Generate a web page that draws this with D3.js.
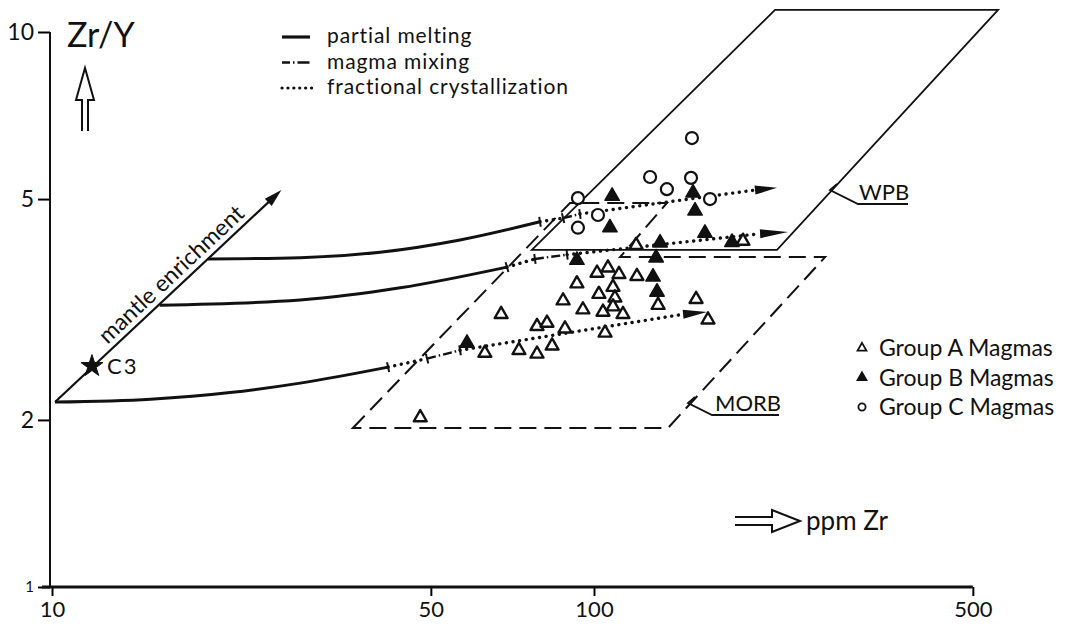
<!DOCTYPE html>
<html>
<head>
<meta charset="utf-8">
<script src="https://cdn.jsdelivr.net/npm/d3@7"></script>
<style>
    body { margin: 0; background: #fff; }
    text { font-family: Lato, "DejaVu Sans", sans-serif; fill: #111; }
</style>
</head>
<body>
<div id="vis"></div>
<script>
// Zr (ppm), Zr/Y pairs
const groupA = [
    [119.6, 4.13], [101.3, 3.68], [106.1, 3.76], [111.2, 3.66], [120.0, 3.63], [93.0, 3.52],
    [108.4, 3.47], [102.1, 3.37], [109.3, 3.32], [87.7, 3.28], [108.4, 3.20], [95.4, 3.16],
    [103.9, 3.13], [113.1, 3.10], [131.3, 3.22], [154.3, 3.30], [67.4, 3.10], [78.5, 2.95],
    [81.9, 2.99], [88.4, 2.92], [104.8, 2.87], [72.7, 2.67], [78.5, 2.63], [83.7, 2.72],
    [62.9, 2.64], [162.3, 3.03], [47.8, 2.02], [188.3, 4.20]
];
const groupB = [
    [108.0, 5.06], [152.3, 5.13], [153.6, 4.76], [107.0, 4.44], [160.2, 4.34], [132.4, 4.17],
    [130.2, 3.92], [93.0, 3.88], [128.5, 3.62], [130.7, 3.40], [58.3, 2.75], [179.7, 4.18]
];
const groupC = [
    [93.4, 5.02], [151.6, 6.44], [126.9, 5.48], [136.3, 5.21], [151.0, 5.46], [163.7, 5.00],
    [101.7, 4.68], [93.4, 4.44]
];

const mantleTrend = [[10.13, 2.154], [26.5, 5.19]];
const c3 = [11.85, 2.50];

// partial melting curves leaving the enrichment trend
const meltLow = [[10.13, 2.154], [15.2, 2.18], [21.3, 2.24], [28.7, 2.33], [41.7, 2.49]];
const meltMid = [[15.8, 3.22], [28.7, 3.29], [43.9, 3.46], [69.1, 3.77]];
const meltHigh = [[19.4, 3.90], [28.7, 3.92], [40.3, 4.01], [56.6, 4.22], [79.5, 4.55]];

// crystallization legs, mixing legs, then crystallization to the arrow tip
const fracLow = [[41.7, 2.49], [49.2, 2.58]];
const mixLow = [[49.2, 2.58], [56.6, 2.67]];
const trendLow = [[56.6, 2.67], [146.0, 3.10], [161.6, 3.13]];
const fracMid = [[69.1, 3.77], [77.8, 3.90]];
const mixMid = [[77.8, 3.90], [89.2, 3.97]];
const trendMid = [[89.2, 3.97], [202.5, 4.33], [228.0, 4.36]];
const fracHigh = [[79.5, 4.55], [87.7, 4.62]];
const mixHigh = [[87.7, 4.62], [94.2, 4.70]];
const trendHigh = [[94.2, 4.70], [198.2, 5.19], [217.6, 5.24]];

// tectonic fields
const wpbField = [[76.8, 4.05], [215.8, 10.96], [556.6, 10.96], [217.6, 4.05]];
const morbField = [[35.9, 1.934], [90.3, 4.92], [136.3, 4.92], [111.7, 3.93], [266.9, 3.93], [136.9, 1.934]];

const xTicks = [10, 50, 100, 500];
const yTicks = [1, 2, 5, 10];
const processNames = ['partial melting', 'magma mixing', 'fractional crystallization'];
const groupNames = ['Group A Magmas', 'Group B Magmas', 'Group C Magmas'];

const width = 1067;
const height = 632;
const ink = '#111';

const x = d3.scaleLog().domain([10, 1000]).range([52, 1136]);
const y = d3.scaleLog().domain([1, 10]).range([587, 32]);

const svg = d3.select('#vis').append('svg').attr('width', width).attr('height', height);

const line = d3.line().x(d => x(d[0])).y(d => y(d[1]));
const curve = d3.line().x(d => x(d[0])).y(d => y(d[1])).curve(d3.curveMonotoneX);

// fields
svg.append('path').attr('d', line(wpbField) + 'Z')
    .attr('fill', 'none').attr('stroke', ink).attr('stroke-width', 1.8);
svg.append('path').attr('d', line(morbField) + 'Z')
    .attr('fill', 'none').attr('stroke', ink).attr('stroke-width', 2)
    .attr('stroke-dasharray', '17,8');

// axes
const xAxis = d3.axisBottom(x).tickValues(xTicks).tickFormat(d3.format('d')).tickSize(9).tickPadding(5);
const yAxis = d3.axisLeft(y).tickValues(yTicks).tickFormat(d3.format('d')).tickSize(12).tickPadding(4);

svg.append('g').attr('transform', `translate(0,${y(1)})`).call(xAxis)
    .call(g => g.select('.domain').remove())
    .call(g => g.selectAll('.tick line').attr('stroke-width', 2))
    .call(g => g.selectAll('text').attr('font-size', 22).attr('font-family', 'Lato'));
svg.append('g').attr('transform', `translate(${x(10) - 2},0)`).call(yAxis)
    .call(g => g.select('.domain').remove())
    .call(g => g.selectAll('.tick line').attr('stroke-width', 2))
    .call(g => g.selectAll('text').attr('font-size', d => d === 1 ? 15 : 23).attr('font-family', 'Lato'));

svg.append('line')
    .attr('x1', x(10) - 10).attr('x2', x(500))
    .attr('y1', y(1)).attr('y2', y(1))
    .attr('stroke', ink).attr('stroke-width', 3.2);
svg.append('line')
    .attr('x1', x(10) - 2).attr('x2', x(10) - 2)
    .attr('y1', y(10)).attr('y2', y(1))
    .attr('stroke', ink).attr('stroke-width', 2);

// axis titles with hollow arrows
svg.append('text').attr('x', 67).attr('y', 47).attr('font-size', 34).text('Zr/Y');
svg.append('path').attr('d', 'M82,131 L82,100 L76,100 L85,68 L94,100 L88,100 L88,131')
    .attr('fill', 'none').attr('stroke', ink).attr('stroke-width', 2);
svg.append('path').attr('d', 'M735,517 L772,517 L772,510 L800,521 L772,532 L772,525 L735,525')
    .attr('fill', 'none').attr('stroke', ink).attr('stroke-width', 2);
svg.append('text').attr('x', 806).attr('y', 530).attr('font-size', 26).text('ppm Zr');

// mantle enrichment trend
const m0 = [x(mantleTrend[0][0]), y(mantleTrend[0][1])];
const m1 = [x(mantleTrend[1][0]), y(mantleTrend[1][1])];
const mLen = Math.hypot(m1[0] - m0[0], m1[1] - m0[1]);
const mDir = [(m1[0] - m0[0]) / mLen, (m1[1] - m0[1]) / mLen];
svg.append('line')
    .attr('x1', m0[0]).attr('y1', m0[1])
    .attr('x2', m1[0] - mDir[0] * 10).attr('y2', m1[1] - mDir[1] * 10)
    .attr('stroke', ink).attr('stroke-width', 2.2);
function arrowHead(base, tip, half) {
    const dx = tip[0] - base[0], dy = tip[1] - base[1];
    const l = Math.hypot(dx, dy);
    const nx = -dy / l * half, ny = dx / l * half;
    return `M${base[0] + nx},${base[1] + ny} L${tip[0]},${tip[1]} L${base[0] - nx},${base[1] - ny}Z`;
}
svg.append('path')
    .attr('d', arrowHead([m1[0] - mDir[0] * 18, m1[1] - mDir[1] * 18], m1, 5))
    .attr('fill', ink);

const angle = Math.atan2(mDir[1], mDir[0]) * 180 / Math.PI;
const tMid = 0.555;
const labelPos = [m0[0] + mDir[0] * mLen * tMid + mDir[1] * 6, m0[1] + mDir[1] * mLen * tMid - mDir[0] * 6];
svg.append('text')
    .attr('transform', `translate(${labelPos[0]},${labelPos[1]}) rotate(${angle})`)
    .attr('text-anchor', 'middle').attr('font-size', 23)
    .text('mantle enrichment');

svg.append('path')
    .attr('transform', `translate(${x(c3[0])},${y(c3[1])})`)
    .attr('d', d3.symbol().type(d3.symbolStar).size(150)())
    .attr('fill', ink).attr('stroke', ink).attr('stroke-width', 1);
svg.append('text').attr('x', x(c3[0]) + 15).attr('y', y(c3[1]) + 8)
    .attr('font-size', 22).attr('letter-spacing', 2).text('C3');

// petrogenetic paths
const dotted = {stroke: ink, 'stroke-width': 3.4, 'stroke-linecap': 'round', 'stroke-dasharray': '0.1,6.6', fill: 'none'};
const mixed = {stroke: ink, 'stroke-width': 2.4, 'stroke-dasharray': '9,3,1.5,3', fill: 'none'};
function styled(sel, style) {
    Object.entries(style).forEach(([k, v]) => sel.attr(k, v));
    return sel;
}
function tickAt(pt, next) {
    const p = [x(pt[0]), y(pt[1])], q = [x(next[0]), y(next[1])];
    const l = Math.hypot(q[0] - p[0], q[1] - p[1]);
    const nx = -(q[1] - p[1]) / l * 5, ny = (q[0] - p[0]) / l * 5;
    svg.append('line').attr('x1', p[0] + nx).attr('y1', p[1] + ny)
        .attr('x2', p[0] - nx).attr('y2', p[1] - ny)
        .attr('stroke', ink).attr('stroke-width', 2);
}

[[meltLow, fracLow, mixLow, trendLow], [meltMid, fracMid, mixMid, trendMid], [meltHigh, fracHigh, mixHigh, trendHigh]]
    .forEach(([melt, frac, mix, trend]) => {
        svg.append('path').attr('d', curve(melt))
            .attr('fill', 'none').attr('stroke', ink).attr('stroke-width', 3);
        styled(svg.append('path').attr('d', line(frac)), dotted);
        styled(svg.append('path').attr('d', line(mix)), mixed);
        styled(svg.append('path').attr('d', line(trend.slice(0, -1))), dotted);
        tickAt(frac[0], frac[1]);
        tickAt(mix[0], mix[1]);
        tickAt(mix[1], trend[1]);
        const base = trend[trend.length - 2], tip = trend[trend.length - 1];
        svg.append('path')
            .attr('d', arrowHead([x(base[0]), y(base[1])], [x(tip[0]), y(tip[1])], 4.5))
            .attr('fill', ink);
    });

// field labels with leaders
svg.append('path').attr('d', 'M837,184 L830,190 L858,204 L908,204')
    .attr('fill', 'none').attr('stroke', ink).attr('stroke-width', 1.8);
svg.append('text').attr('x', 859).attr('y', 200).attr('font-size', 22).text('WPB');
svg.append('path').attr('d', 'M695,397 L688,403 L712,415 L779,415')
    .attr('fill', 'none').attr('stroke', ink).attr('stroke-width', 1.8);
svg.append('text').attr('x', 715).attr('y', 411).attr('font-size', 22).text('MORB');

// data points
const tri = d3.symbol().type(d3.symbolTriangle);
svg.append('g').selectAll('path').data(groupA).enter().append('path')
    .attr('transform', d => `translate(${x(d[0])},${y(d[1])})`)
    .attr('d', tri.size(72)())
    .attr('fill', '#fff').attr('stroke', ink).attr('stroke-width', 2.4).attr('stroke-linejoin', 'round');
svg.append('g').selectAll('path').data(groupB).enter().append('path')
    .attr('transform', d => `translate(${x(d[0])},${y(d[1])})`)
    .attr('d', tri.size(90)())
    .attr('fill', ink).attr('stroke', ink).attr('stroke-width', 1.5).attr('stroke-linejoin', 'round');
svg.append('g').selectAll('circle').data(groupC).enter().append('circle')
    .attr('cx', d => x(d[0])).attr('cy', d => y(d[1])).attr('r', 6)
    .attr('fill', '#fff').attr('stroke', ink).attr('stroke-width', 2.2);

// process legend
const procLegend = svg.append('g').selectAll('g').data(processNames).enter().append('g')
    .attr('transform', (d, i) => `translate(282,${37 + i * 25.5})`);
procLegend.append('text').attr('x', 45).attr('y', 0).attr('dy', '0.3em')
    .attr('font-size', 21).attr('letter-spacing', 0.9).text(d => d);
procLegend.each(function (d, i) {
    const g = d3.select(this);
    const seg = g.append('line').attr('x1', 0).attr('x2', i === 2 ? 32 : 28).attr('y1', 0).attr('y2', 0);
    if (i === 0) styled(seg, {stroke: ink, 'stroke-width': 3.2});
    if (i === 1) styled(seg, {stroke: ink, 'stroke-width': 2.6, 'stroke-dasharray': '8,3,1.5,3,12'});
    if (i === 2) styled(seg, {stroke: ink, 'stroke-width': 3.2, 'stroke-linecap': 'round', 'stroke-dasharray': '0.1,5.8'});
});

// group legend
const grpLegend = svg.append('g').selectAll('g').data(groupNames).enter().append('g')
    .attr('transform', (d, i) => `translate(862,${348 + i * 29.5})`);
grpLegend.append('text').attr('x', 17).attr('y', 8).attr('font-size', 23).text(d => d);
grpLegend.each(function (d, i) {
    const g = d3.select(this);
    if (i < 2) {
        g.append('path').attr('d', tri.size(34)())
            .attr('fill', i === 0 ? '#fff' : ink).attr('stroke', ink).attr('stroke-width', 1.8);
    } else {
        g.append('circle').attr('r', 3.6).attr('fill', '#fff').attr('stroke', ink).attr('stroke-width', 1.8);
    }
});
</script>
</body>
</html>
